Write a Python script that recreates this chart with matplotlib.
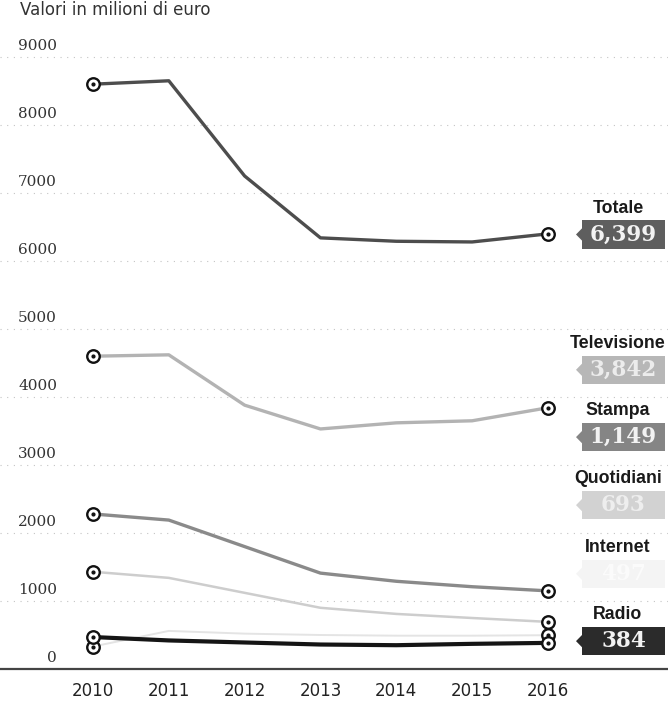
import matplotlib.pyplot as plt
from matplotlib.patches import Rectangle, Polygon
from matplotlib.transforms import blended_transform_factory

# data (milioni di euro)
years = [2010, 2011, 2012, 2013, 2014, 2015, 2016]
totale = [8600, 8650, 7250, 6340, 6290, 6280, 6399]
televisione = [4600, 4620, 3880, 3530, 3620, 3650, 3842]
stampa = [2280, 2190, 1800, 1410, 1290, 1210, 1149]
quotidiani = [1430, 1340, 1120, 900, 810, 750, 693]
internet = [330, 560, 520, 500, 490, 490, 497]
radio = [470, 420, 390, 360, 350, 370, 384]

series_names = ['Totale', 'Televisione', 'Stampa', 'Quotidiani', 'Internet', 'Radio']
series_values = [totale, televisione, stampa, quotidiani, internet, radio]
box_texts = ['6,399', '3,842', '1,149', '693', '497', '384']
y_ticks = [0, 1000, 2000, 3000, 4000, 5000, 6000, 7000, 8000, 9000]

# style
line_colors = ['#4d4d4d', '#b3b3b3', '#8a8a8a', '#cdcdcd', '#e4e4e4', '#151515']
line_widths = [2.4, 2.4, 2.4, 1.8, 1.4, 3.0]
box_colors = ['#5e5e5e', '#b7b7b7', '#858585', '#d2d2d2', '#f4f4f4', '#2b2b2b']
box_text_colors = ['#f2f2f2', '#ececec', '#f2f2f2', '#eeeeee', '#fbfbfb', '#f2f2f2']
box_centers = [6390, 4400, 3410, 2410, 1400, 410]  # vertical position of the value boxes

sans = ['Liberation Sans', 'DejaVu Sans']
serif = ['DejaVu Serif']

fig = plt.figure(figsize=(6.68, 7.02), dpi=100)
ax = fig.add_axes([0, 33 / 702, 1, 669 / 702])
ax.set_xlim(2008.774, 2017.583)
ax.set_ylim(0, 9838)

for s in ['top', 'right', 'left']:
    ax.spines[s].set_visible(False)
ax.spines['bottom'].set_color('#444444')
ax.spines['bottom'].set_linewidth(1.6)

# dotted grid
for v in y_ticks[1:]:
    ax.axhline(v, color='#c4c4c4', lw=0.8, ls=(0, (1, 5)), zorder=0)

# y labels above grid lines
ylab_tr = blended_transform_factory(fig.transFigure, ax.transData)
for v in y_ticks:
    ax.annotate(str(v), xy=(57 / 668, v), xycoords=ylab_tr, xytext=(0, 3),
                textcoords='offset points', ha='right', va='bottom',
                fontsize=11, family=serif, color='#333333')

ax.set_yticks([])
ax.set_xticks(years)
ax.set_xticklabels([str(y) for y in years], fontsize=12, color='#222222')
ax.tick_params(axis='x', length=0, pad=9)

# lines, drawn from back to front
for i in [4, 3, 2, 1, 0, 5]:
    vals = series_values[i]
    ax.plot(years, vals, color=line_colors[i], lw=line_widths[i],
            solid_capstyle='round', zorder=2 + i * 0.1)
    ends_x = [years[0], years[-1]]
    ends_y = [vals[0], vals[-1]]
    ax.plot(ends_x, ends_y, ls='none', marker='o', ms=9, mfc='white',
            mec='#111111', mew=1.7, zorder=4)
    ax.plot(ends_x, ends_y, ls='none', marker='o', ms=2, mfc='#111111',
            mec='#111111', zorder=5)

# labels on the right
tr = blended_transform_factory(ax.transAxes, ax.transData)
bx0, bx1 = 582 / 668, 665 / 668
bh = 420
for i, name in enumerate(series_names):
    yc = box_centers[i]
    ax.add_patch(Rectangle((bx0, yc - bh / 2), bx1 - bx0, bh, transform=tr,
                           facecolor=box_colors[i], edgecolor='none',
                           clip_on=False, zorder=6))
    ax.add_patch(Polygon([(bx0, yc + 90), (bx0 - 6 / 668, yc), (bx0, yc - 90)],
                         closed=True, transform=tr, facecolor=box_colors[i],
                         edgecolor='none', clip_on=False, zorder=6))
    ax.text((bx0 + bx1) / 2, yc, box_texts[i], transform=tr, ha='center',
            va='center', fontsize=15.5, fontweight='bold', family=serif,
            color=box_text_colors[i], zorder=7)
    ax.text(618 / 668, yc + bh / 2 + 50, name, transform=tr,
            ha='center', va='bottom', fontsize=12.8, fontweight='bold',
            family=sans, color='#1a1a1a', zorder=7)

fig.text(20 / 668, 1 - 15 / 702, 'Valori in milioni di euro', ha='left',
         va='baseline', fontsize=12, color='#333333')

fig.savefig('out.png', dpi=100)
